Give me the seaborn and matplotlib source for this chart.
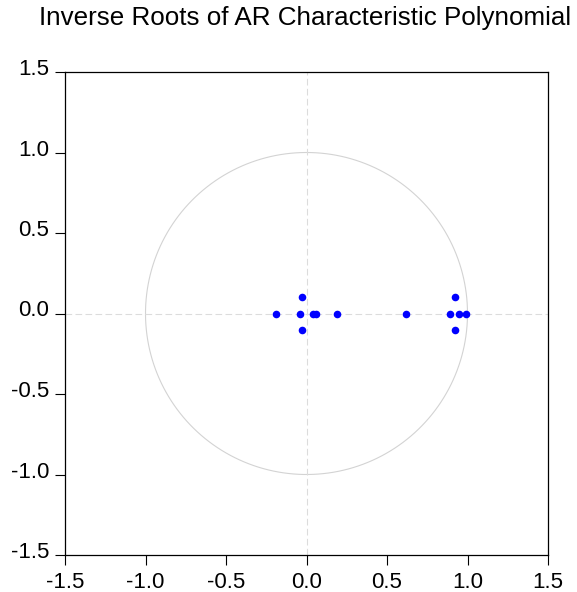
import numpy as np
import pandas as pd
import matplotlib
matplotlib.use("Agg")
import matplotlib.pyplot as plt
import matplotlib.transforms as mtransforms
import seaborn as sns

real_part = [-0.19, -0.04, -0.03, -0.03, 0.04, 0.06, 0.19, 0.62, 0.89, 0.92, 0.92, 0.95, 0.99]
imag_part = [0.00, 0.00, 0.10, -0.10, 0.00, 0.00, 0.00, 0.00, 0.00, 0.10, -0.10, 0.00, 0.00]
ticks = [-1.5, -1.0, -0.5, 0.0, 0.5, 1.0, 1.5]
tick_labels = ["-1.5", "-1.0", "-0.5", "0.0", "0.5", "1.0", "1.5"]

sns.set_style("white")
plt.rcParams["font.family"] = ["Liberation Sans", "DejaVu Sans"]
plt.rcParams["text.color"] = "black"
plt.rcParams["xtick.color"] = "black"
plt.rcParams["ytick.color"] = "black"

df = pd.DataFrame({"re": real_part, "im": imag_part})

fig = plt.figure(figsize=(5.77, 5.92), dpi=100)
ax = fig.add_axes([65 / 577, 1 - 555 / 592, 483 / 577, 483 / 592])

# unit circle + axes lines
t = np.linspace(0, 2 * np.pi, 400)
ax.plot(np.cos(t), np.sin(t), color="#d3d3d3", lw=0.8, zorder=1)
ax.axhline(0, color="#dcdcdc", lw=0.8, ls=(0, (6, 3)), zorder=1)
ax.axvline(0, color="#dcdcdc", lw=0.8, ls=(0, (6, 3)), zorder=1)

sns.scatterplot(data=df, x="re", y="im", ax=ax, color="blue", s=30,
                edgecolor="blue", linewidth=0, zorder=3)

ax.set_xlim(-1.5, 1.5)
ax.set_ylim(-1.5, 1.5)
ax.set_xticks(ticks)
ax.set_yticks(ticks)
ax.set_xticklabels(tick_labels, fontsize=16)
ax.set_yticklabels(tick_labels, fontsize=16)
ax.tick_params(axis="both", direction="out", length=7.5, width=0.8,
               colors="black", bottom=True, left=True)
ax.tick_params(axis="x", pad=5)
ax.tick_params(axis="y", pad=4)
# y labels sit a little above their ticks
off = mtransforms.ScaledTranslation(0, 5 / 100, fig.dpi_scale_trans)
for lab in ax.get_yticklabels():
    lab.set_transform(lab.get_transform() + off)
ax.set_xlabel("")
ax.set_ylabel("")
for sp in ax.spines.values():
    sp.set_color("black")
    sp.set_linewidth(0.9)

fig.text(305 / 577, 1 - 18 / 592, "Inverse Roots of AR Characteristic Polynomial",
         ha="center", va="center", fontsize=18.7)

plt.savefig("out.png", dpi=100)
